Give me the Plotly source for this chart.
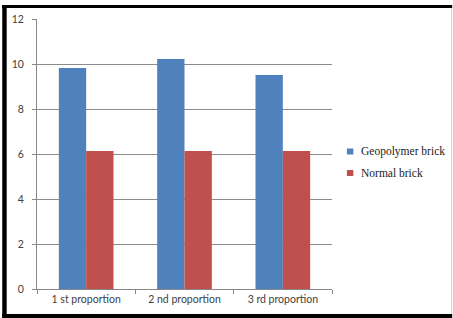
import plotly.graph_objects as go

categories = ["1 st proportion", "2 nd proportion", "3 rd proportion"]
geopolymer = [9.82, 10.22, 9.51]
normal = [6.13, 6.13, 6.13]
series_names = ["Geopolymer brick", "Normal brick"]
series_colors = ["#4F81BD", "#C0504D"]
y_ticks = [0, 2, 4, 6, 8, 10, 12]

W, H = 453, 318
L, R, T, B = 35, 332, 19, 289

def px(x):
    return (x - L) / (R - L)

def py(y):
    return (B - y) / (B - T)

fig = go.Figure()
fig.add_bar(x=categories, y=geopolymer, name=series_names[0], marker_color=series_colors[0], marker_line_width=0)
fig.add_bar(x=categories, y=normal, name=series_names[1], marker_color=series_colors[1], marker_line_width=0)

shapes = [
    dict(type="rect", xref="paper", yref="paper", x0=px(0), x1=px(4.5), y0=py(318), y1=py(5), fillcolor="black", line_width=0, layer="above"),
    dict(type="rect", xref="paper", yref="paper", x0=px(0), x1=px(453), y0=py(8), y1=py(5), fillcolor="black", line_width=0, layer="above"),
    dict(type="rect", xref="paper", yref="paper", x0=px(0), x1=px(453), y0=py(318), y1=py(314), fillcolor="black", line_width=0, layer="above"),
    dict(type="line", xref="paper", yref="paper", x0=px(452.5), x1=px(452.5), y0=py(314), y1=py(8), line=dict(color="#cccccc", width=1)),
]
annotations = []
legend_rows = [151.5, 173]
for name, color, yc in zip(series_names, series_colors, legend_rows):
    shapes.append(dict(type="rect", xref="paper", yref="paper", x0=px(347), x1=px(353.5),
                       y0=py(yc + 3), y1=py(yc - 3), fillcolor=color, line_width=0))
    annotations.append(dict(xref="paper", yref="paper", x=px(359), y=py(yc), text=name,
                            showarrow=False, xanchor="left", yanchor="middle",
                            font=dict(family="Liberation Serif, serif", size=11.5, color="#222222")))

fig.update_layout(
    width=W, height=H,
    margin=dict(l=L, r=W - R, t=T, b=H - B),
    paper_bgcolor="white", plot_bgcolor="white",
    barmode="group", bargap=0.444, bargroupgap=0,
    font=dict(family="Lato, Open Sans, sans-serif", size=10.5, color="#404040"),
    showlegend=False,
    shapes=shapes,
    annotations=annotations,
    xaxis=dict(range=[-0.5, 2.5], showline=True, linecolor="#888888", linewidth=1,
               ticks="outside", tickson="boundaries", ticklen=4, tickcolor="#888888",
               showgrid=False, fixedrange=True),
    yaxis=dict(range=[0, 12], tickvals=y_ticks, showline=True, linecolor="#888888", linewidth=1,
               ticks="outside", ticklen=4, tickcolor="#888888",
               showgrid=True, gridcolor="#8c8c8c", gridwidth=1, zeroline=False,
               ticklabelstandoff=6, fixedrange=True),
)

fig.write_html(
    "out.html",
    config={"displayModeBar": False},
    post_script="document.body.style.margin='0';document.body.style.overflow='hidden';",
)
